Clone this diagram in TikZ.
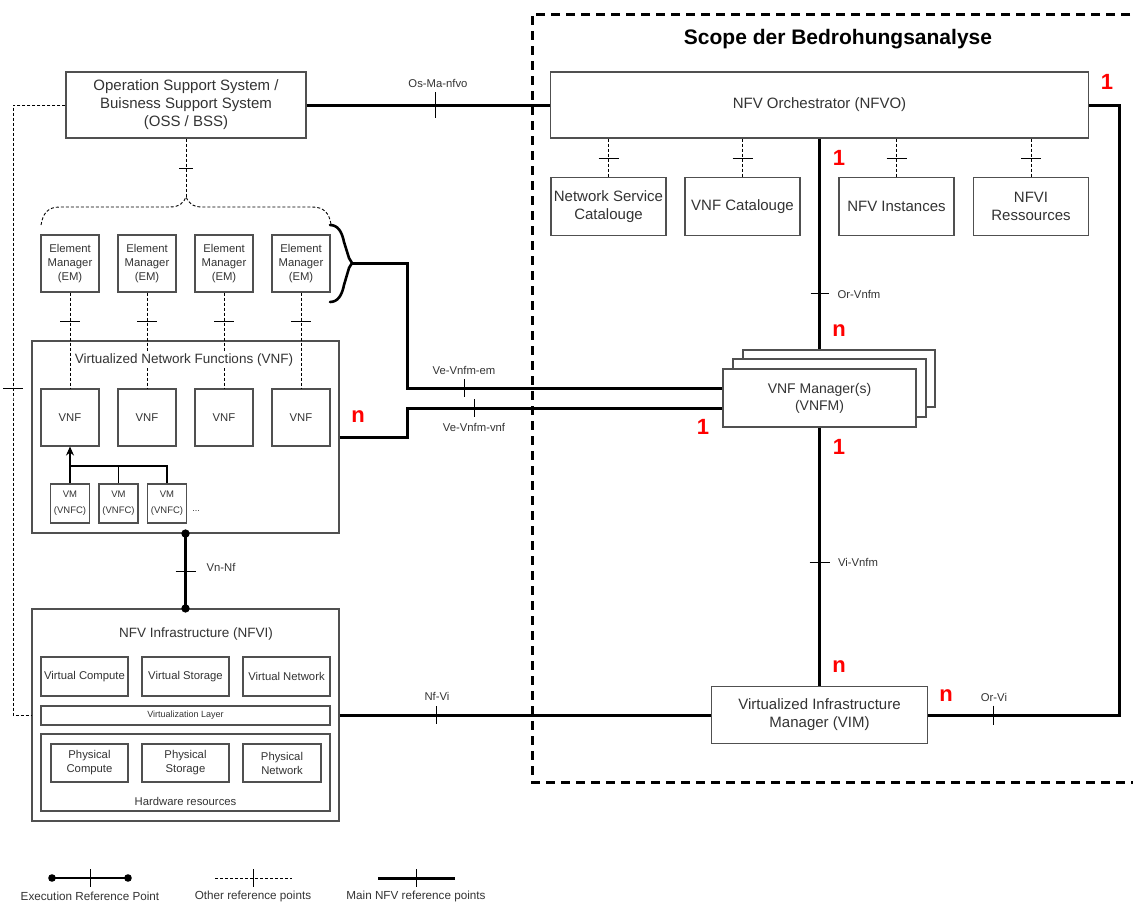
\documentclass[tikz,border=0pt]{standalone}
\usepackage{fontspec}
\setmainfont{Liberation Sans}
\usetikzlibrary{arrows.meta}
\definecolor{txt}{HTML}{333333}
\definecolor{edge}{HTML}{505050}
\begin{document}
\begin{tikzpicture}[x=1pt,y=-1pt,
  box/.style={draw=edge, line width=1.1pt, fill=white, text=txt, align=center, inner sep=0pt},
  f15/.style={font=\fontsize{15}{18}\selectfont},
  f14/.style={font=\fontsize{14}{17}\selectfont},
  f13/.style={font=\fontsize{13.5}{16}\selectfont},
  f11/.style={font=\fontsize{11.3}{14}\selectfont},
  f9/.style={font=\fontsize{9.5}{16}\selectfont},
  lbl/.style={text=txt, inner sep=1pt, font=\fontsize{11.3}{13}\selectfont},
  lgd/.style={text=txt, inner sep=1pt, font=\fontsize{11.7}{13}\selectfont},
  card/.style={text=red, inner sep=0pt, font=\fontsize{22}{22}\selectfont\bfseries},
  main/.style={line width=3pt},
  other/.style={line width=0.9pt, dash pattern=on 3pt off 2pt},
  exec/.style={line width=3pt},
  tickline/.style={line width=1pt},
  scope/.style={line width=3pt, dash pattern=on 9pt off 6pt},
  vtick/.pic={\draw[tickline] (0,-#1) -- (0,#1);},
  htick/.pic={\draw[tickline] (-#1,0) -- (#1,0);},
  vtick/.default=9, htick/.default=10
]
\useasboundingbox (0,0) rectangle (1133,902);

% scope of the threat analysis
\draw[scope] (1145,14) -- (532,14) -- (532,782) -- (1145,782);
\node[text=black, font=\fontsize{21}{24}\selectfont\bfseries] (scopetitle) at (838,39) {Scope der Bedrohungsanalyse};

% management and orchestration
\node[box, f15, minimum width=240pt, minimum height=66pt] (oss) at (186,105) {Operation Support System /\\Buisness Support System\\(OSS / BSS)};
\node[box, f15, minimum width=538pt, minimum height=66pt] (nfvo) at (819.5,105) {NFV Orchestrator (NFVO)};
\node[box, f15, minimum width=115pt, minimum height=58pt] (nsc) at (608.5,206.5) {Network Service\\Catalouge};
\node[box, f15, minimum width=115pt, minimum height=58pt] (vnfcat) at (742.5,206.5) {VNF Catalouge};
\node[box, f15, minimum width=115pt, minimum height=58pt] (nfvinst) at (896.5,206.5) {NFV Instances};
\node[box, f15, minimum width=115pt, minimum height=58pt] (nfvires) at (1031,206.5) {NFVI\\Ressources};

\node[box, minimum width=192pt, minimum height=57pt] (vnfmc) at (839,378.5) {};
\node[box, minimum width=193pt, minimum height=58pt] (vnfmb) at (829.5,388) {};
\node[box, f14, minimum width=193pt, minimum height=58pt] (vnfm) at (819.5,398) {VNF Manager(s)\\(VNFM)};

\node[box, f15, minimum width=216pt, minimum height=57pt] (vim) at (819.5,715) {Virtualized Infrastructure\\Manager (VIM)};

% element managers and VNFs
\node[box, f11, minimum width=58pt, minimum height=57pt] (em1) at (70,263.5) {Element\\Manager\\(EM)};
\node[box, f11, minimum width=58pt, minimum height=57pt] (em2) at (147,263.5) {Element\\Manager\\(EM)};
\node[box, f11, minimum width=58pt, minimum height=57pt] (em3) at (224,263.5) {Element\\Manager\\(EM)};
\node[box, f11, minimum width=58pt, minimum height=57pt] (em4) at (301,263.5) {Element\\Manager\\(EM)};

\node[box, minimum width=307pt, minimum height=192pt] (vnfbox) at (185.5,437) {};
\node[box, f11, minimum width=58pt, minimum height=57pt] (vnf1) at (70,417.5) {VNF};
\node[box, f11, minimum width=58pt, minimum height=57pt] (vnf2) at (147,417.5) {VNF};
\node[box, f11, minimum width=58pt, minimum height=57pt] (vnf3) at (224,417.5) {VNF};
\node[box, f11, minimum width=58pt, minimum height=57pt] (vnf4) at (301,417.5) {VNF};

\node[box, f9, minimum width=39pt, minimum height=39pt] (vm1) at (70,503.5) {VM\\(VNFC)};
\node[box, f9, minimum width=39pt, minimum height=39pt] (vm2) at (118.5,503.5) {VM\\(VNFC)};
\node[box, f9, minimum width=39pt, minimum height=39pt] (vm3) at (167,503.5) {VM\\(VNFC)};
\node[text=txt, inner sep=0pt, font=\fontsize{9}{10}\selectfont] (vmmore) at (196,511) {...};

\coordinate (vmbus) at (70,466);
\draw[line width=1.1pt, -{Stealth[length=9pt,width=8pt]}] (vm1.north) -- (vnf1.south);
\draw[line width=1.1pt] (vm2.north) |- (vmbus);
\draw[line width=1.1pt] (vm3.north) |- (vmbus);

% NFV infrastructure
\node[box, minimum width=307pt, minimum height=212pt] (nfvi) at (185.5,715) {};
\node[text=txt, f13] (nfvititle) at (196,634) {NFV Infrastructure (NFVI)};
\node[box, f11, minimum width=87pt, minimum height=39pt] (vcomp) at (84.5,676.5) {Virtual Compute};
\node[box, f11, minimum width=87pt, minimum height=39pt] (vstor) at (185.5,676.5) {Virtual Storage};
\node[box, f11, minimum width=87pt, minimum height=39pt] (vnet) at (286.5,676.5) {Virtual Network};
\node[box, font=\fontsize{9}{10}\selectfont, minimum width=289pt, minimum height=19pt] (vlayer) at (185.5,715.5) {Virtualization Layer};
\node[box, minimum width=289pt, minimum height=77pt] (hw) at (185.5,772.5) {};
\node[box, f11, minimum width=77pt, minimum height=38pt] (pcomp) at (89.5,763) {Physical\\Compute};
\node[box, f11, minimum width=87pt, minimum height=38pt] (pstor) at (185.5,763) {Physical\\Storage};
\node[box, f11, minimum width=78pt, minimum height=38pt] (pnet) at (282,763) {Physical\\Network};
\node[text=txt, f11] (hwtitle) at (185.5,801) {Hardware resources};

% main NFV reference points
\draw[main] (oss.east) -- (nfvo.west);
\pic at (435,105) {vtick=13};
\node[lbl] (lOsMa) at (438,83) {Os-Ma-nfvo};

\draw[main] (nfvo.south) -- (nfvo.south |- vnfmc.north);
\pic at (819.5,293) {htick=9};
\node[lbl] (lOrVnfm) at (859,294) {Or-Vnfm};

\draw[main] (vnfm.south) -- (vim.north);
\pic at (819.5,562) {htick=10};
\node[lbl] (lViVnfm) at (858,562) {Vi-Vnfm};

\draw[main] (vim.east) -| ([xshift=30pt]nfvo.east) -- (nfvo.east);
\pic at (993,715) {vtick=9.5};
\node[lbl] (lOrVi) at (994,697) {Or-Vi};

\draw[main] (nfvi.east) -- (vim.west);
\pic at (436,715) {vtick=9};
\node[lbl] (lNfVi) at (437,696) {Nf-Vi};

% brace over the element managers
\coordinate (emtip) at (352,263);
\draw[line width=2.6pt, line cap=round] (330,225) .. controls (338,225) and (342,232) .. (344,242)
  -- (349,258) .. controls (350,261) .. (emtip) .. controls (350,265) .. (349,268)
  -- (344,285) .. controls (342,295) and (338,302) .. (330,302);
\draw[main] (emtip) -- ++(55,0) |- ([yshift=10pt]vnfm.west);
\pic at (464,388) {vtick=9};
\node[lbl] (lVeEm) at (464,370) {Ve-Vnfm-em};

\draw[main] (vnfbox.east) -- ++(68,0) |- ([yshift=-10pt]vnfm.west);
\pic at (474,408) {vtick=9};
\node[lbl] (lVeVnf) at (474,427) {Ve-Vnfm-vnf};

% execution reference point
\draw[exec] (vnfbox.south) -- (nfvi.north);
\fill (vnfbox.south) circle (4.2);
\fill (nfvi.north) circle (4.2);
\pic at (185.5,571) {htick=10};
\node[lbl] (lVnNf) at (221,567) {Vn-Nf};

% other reference points
\foreach \i in {1,...,4}{
  \draw[other] (em\i.south) -- (vnf\i.north);
  \pic at (em\i.south |- 0,321) {htick=10};
}
\node[text=txt, f13, fill=white, inner sep=1.5pt] (vnftitle) at (184,360) {Virtualized Network Functions (VNF)};

\foreach \c in {nsc,vnfcat,nfvinst,nfvires}{
  \draw[other] (nfvo.south -| \c.north) -- (\c.north);
  \pic at (\c.north |- 0,158) {htick=10};
}

\coordinate (bpeak) at (186,197);
\draw[other] (oss.south) -- (bpeak);
\pic at (186,168) {htick=7};
\draw[other] (41,225) .. controls (43,213) and (48,207) .. (60,207) -- (170,207)
  .. controls (180,207) and (184,202) .. (bpeak)
  .. controls (188,202) and (192,207) .. (202,207) -- (312,207)
  .. controls (324,207) and (329,213) .. (331,224);

\coordinate (lrail) at (13,400);
\draw[other] (oss.west) -| (lrail) |- (nfvi.west);
\pic at (13,388) {htick=10};

% cardinalities
\node[card] (c1) at (1107,82) {1};
\node[card] (c2) at (839,158) {1};
\node[card] (c3) at (839,331) {n};
\node[card] (c4) at (703,427) {1};
\node[card] (c5) at (839,447) {1};
\node[card] (c6) at (839,667) {n};
\node[card] (c7) at (946,696) {n};
\node[card] (c8) at (358,417) {n};

% legend
\coordinate (lgA1) at (52,878); \coordinate (lgA2) at (128,878);
\draw[line width=2pt] (lgA1) -- (lgA2);
\fill (lgA1) circle (3.8); \fill (lgA2) circle (3.8);
\pic at (90,878) {vtick=9};
\node[lgd] (lgA) at (90,896) {Execution Reference Point};

\coordinate (lgB1) at (215,878); \coordinate (lgB2) at (292,878);
\draw[other] (lgB1) -- (lgB2);
\pic at (253,878) {vtick=9};
\node[lgd] (lgB) at (253,896) {Other reference points};

\coordinate (lgC1) at (378,878); \coordinate (lgC2) at (455,878);
\draw[main] (lgC1) -- (lgC2);
\pic at (416,878) {vtick=9};
\node[lgd] (lgC) at (416,896) {Main NFV reference points};
\end{tikzpicture}
\end{document}
